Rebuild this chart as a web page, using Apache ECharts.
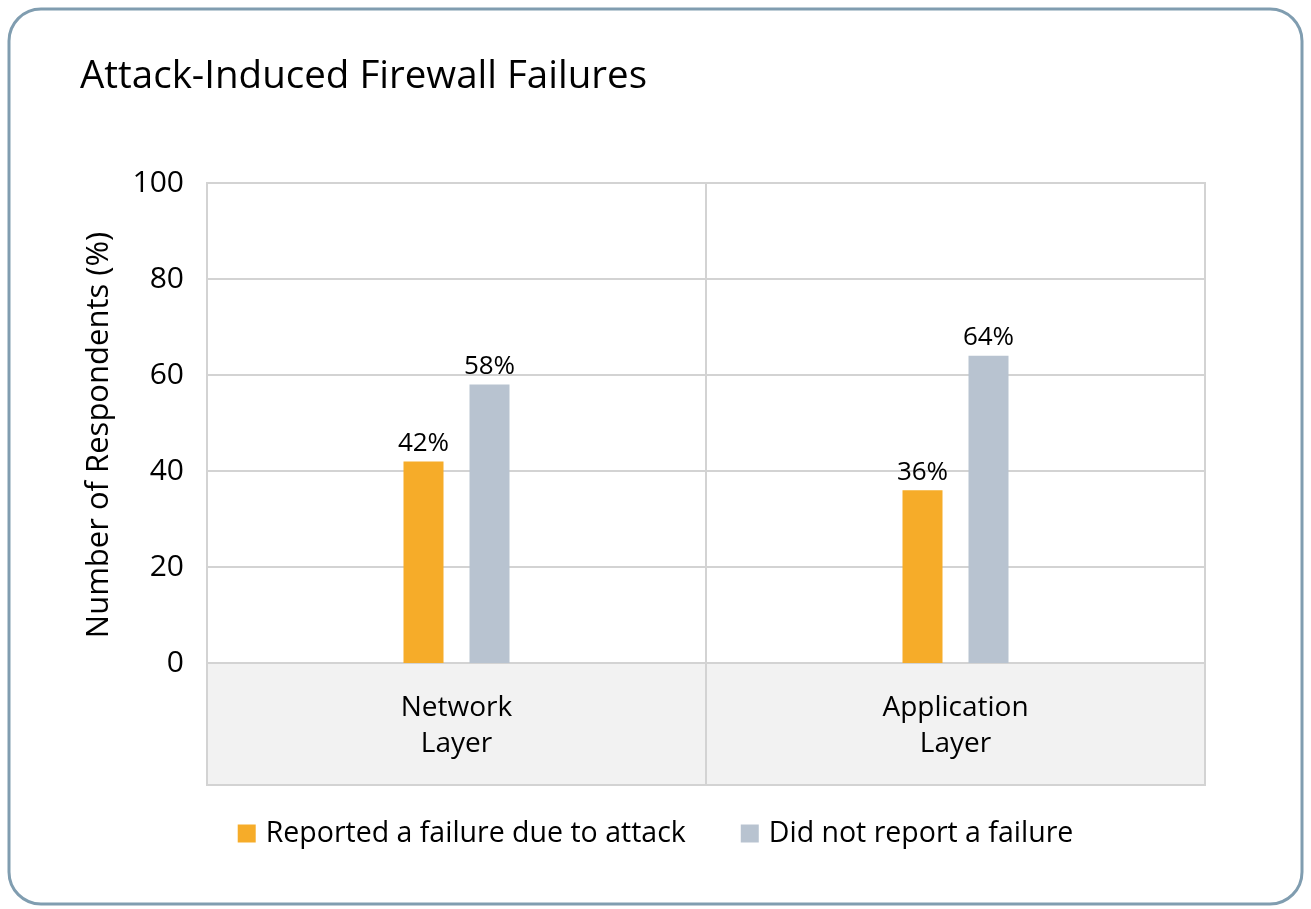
<!DOCTYPE html>
<html>
<head>
<meta charset="utf-8">
<script src="https://cdn.jsdelivr.net/npm/echarts@6/dist/echarts.min.js"></script>
<style>html,body{margin:0;padding:0;background:#fff;}#c{width:1311px;height:909px;}</style>
</head>
<body>
<div id="c"></div>
<script>
var categories = ['Network\nLayer', 'Application\nLayer'];
var reported = [42, 36];
var notReported = [58, 64];
var yTicks = [0, 20, 40, 60, 80, 100];
var seriesNames = ['Reported a failure due to attack', 'Did not report a failure'];

var FONT = 'Open Sans';
var GRIDC = '#d3d3d3';
var chart = echarts.init(document.getElementById('c'));
chart.setOption({
  animation: false,
  textStyle: {fontFamily: FONT, color: '#000'},
  title: {
    text: 'Attack-Induced Firewall Failures',
    left: 75, top: 53,
    textStyle: {fontFamily: FONT, fontSize: 38.5, fontWeight: 'normal', color: '#000'}
  },
  graphic: [{
    type: 'rect', shape: {x: 9, y: 9, width: 1293, height: 895, r: 32},
    style: {fill: 'none', stroke: '#809db0', lineWidth: 3}, z: 0
  }],
  legend: {
    bottom: 56, left: 'center', itemWidth: 18, itemHeight: 18, itemGap: 55,
    icon: 'rect',
    textStyle: {fontFamily: FONT, fontSize: 28.5, color: '#000', padding: [0, 0, 0, 5]},
    data: seriesNames
  },
  grid: [
    {left: 207, right: 106, top: 183, bottom: 246, show: true, borderColor: GRIDC, borderWidth: 2, backgroundColor: '#fff', containLabel: false},
    {left: 207, right: 106, top: 663, bottom: 124, show: true, borderColor: GRIDC, borderWidth: 2, backgroundColor: '#f2f2f2', containLabel: false}
  ],
  xAxis: [
    {type: 'category', gridIndex: 0, data: categories,
      axisLine: {show: true, lineStyle: {color: GRIDC, width: 2}},
      axisTick: {show: false},
      splitLine: {show: true, lineStyle: {color: GRIDC, width: 2}},
      axisLabel: {show: true, margin: 27, fontFamily: FONT, fontSize: 28, lineHeight: 36, color: '#000'}
    },
    {type: 'category', gridIndex: 1, data: categories,
      axisLine: {show: false}, axisTick: {show: false}, axisLabel: {show: false},
      splitLine: {show: true, lineStyle: {color: GRIDC, width: 2}}
    }
  ],
  yAxis: [
    {type: 'value', gridIndex: 0, min: 0, max: 100, interval: 20,
      name: 'Number of Respondents (%)', nameLocation: 'middle', nameGap: 92,
      nameTextStyle: {fontFamily: FONT, fontSize: 31, color: '#000', padding: [0, 24, 0, 0]},
      axisLine: {show: false}, axisTick: {show: false},
      axisLabel: {margin: 23, fontFamily: FONT, fontSize: 30, color: '#000',
        formatter: function (v) { return yTicks.indexOf(v) >= 0 ? String(v) : ''; }},
      splitLine: {show: true, lineStyle: {color: GRIDC, width: 2}}
    },
    {type: 'value', gridIndex: 1, min: 0, max: 1, show: false, splitLine: {show: false}}
  ],
  series: [
    {name: seriesNames[0], type: 'bar', xAxisIndex: 0, yAxisIndex: 0, data: reported,
      barWidth: 40, barGap: '65%', itemStyle: {color: '#f6ac29'},
      label: {show: true, position: 'top', distance: 5, formatter: '{c}%', fontFamily: FONT, fontSize: 26, color: '#000'}
    },
    {name: seriesNames[1], type: 'bar', xAxisIndex: 0, yAxisIndex: 0, data: notReported,
      barWidth: 40, barGap: '65%', itemStyle: {color: '#b8c3d0'},
      label: {show: true, position: 'top', distance: 5, formatter: '{c}%', fontFamily: FONT, fontSize: 26, color: '#000'}
    }
  ]
});
</script>
</body>
</html>
